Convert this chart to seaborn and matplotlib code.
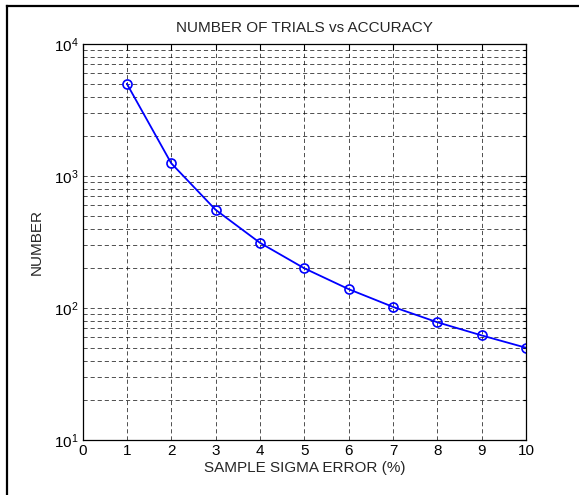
import matplotlib
matplotlib.use("Agg")
import matplotlib.pyplot as plt
import matplotlib.ticker as mticker
from matplotlib.lines import Line2D
import seaborn as sns
import pandas as pd

sigma_error = [1, 2, 3, 4, 5, 6, 7, 8, 9, 10]
trials = [5000, 1250, 555, 312, 200, 139, 102, 78, 62, 50]
x_ticks = [0, 1, 2, 3, 4, 5, 6, 7, 8, 9, 10]

sns.set_style("white")
plt.rcParams['font.family'] = ['Liberation Sans', 'DejaVu Sans']
plt.rcParams['mathtext.fontset'] = 'custom'
plt.rcParams['mathtext.rm'] = 'Liberation Sans'
plt.rcParams['mathtext.it'] = 'Liberation Sans'

df = pd.DataFrame({"x": sigma_error, "y": trials})

fig = plt.figure(figsize=(5.79, 4.95), dpi=100)
ax = fig.add_axes([82.5/579, 55/495, 443.5/579, 396/495])

sns.lineplot(data=df, x="x", y="y", ax=ax, color=(0, 0, 1), linewidth=1.3,
             marker="o", markersize=6.5, markerfacecolor="none",
             markeredgecolor=(0, 0, 1), markeredgewidth=1.2)

ax.set_yscale("log")
ax.set_xlim(0, 10)
ax.set_ylim(10, 1e4)
ax.set_xticks(x_ticks)
ax.xaxis.set_major_formatter(mticker.FuncFormatter(lambda v, p: f"{int(v)}"))
ax.yaxis.set_major_locator(mticker.LogLocator(base=10, numticks=10))
ax.yaxis.set_minor_locator(mticker.LogLocator(base=10, subs=range(2, 10), numticks=20))
ax.yaxis.set_minor_formatter(mticker.NullFormatter())

grid_style = dict(color="black", linestyle=(0, (5, 3.5)), linewidth=0.6, alpha=0.8)
ax.grid(True, which="major", axis="both", **grid_style)
ax.grid(True, which="minor", axis="y", **grid_style)

ax.tick_params(which="both", direction="in", top=True, right=True,
               labelsize=11, colors="black", length=4, width=0.8, pad=3)
ax.tick_params(which="minor", length=2.5)
for s in ax.spines.values():
    s.set_color("black")
    s.set_linewidth(0.9)

ax.set_title("NUMBER OF TRIALS vs ACCURACY", fontsize=11, pad=8.5)
ax.set_xlabel("SAMPLE SIGMA ERROR (%)", fontsize=11, labelpad=2)
ax.set_ylabel("NUMBER", fontsize=11, labelpad=7)

# outer frame: only left and top edges visible in the reference
xl = 7.5 / 579
yt = 1 - 6 / 495
fig.lines.append(Line2D([xl, xl], [0, yt], transform=fig.transFigure,
                        color="black", linewidth=1.6, solid_capstyle="projecting"))
fig.lines.append(Line2D([xl, 1], [yt, yt], transform=fig.transFigure,
                        color="black", linewidth=1.6, solid_capstyle="projecting"))

fig.savefig("out.png", dpi=100)
